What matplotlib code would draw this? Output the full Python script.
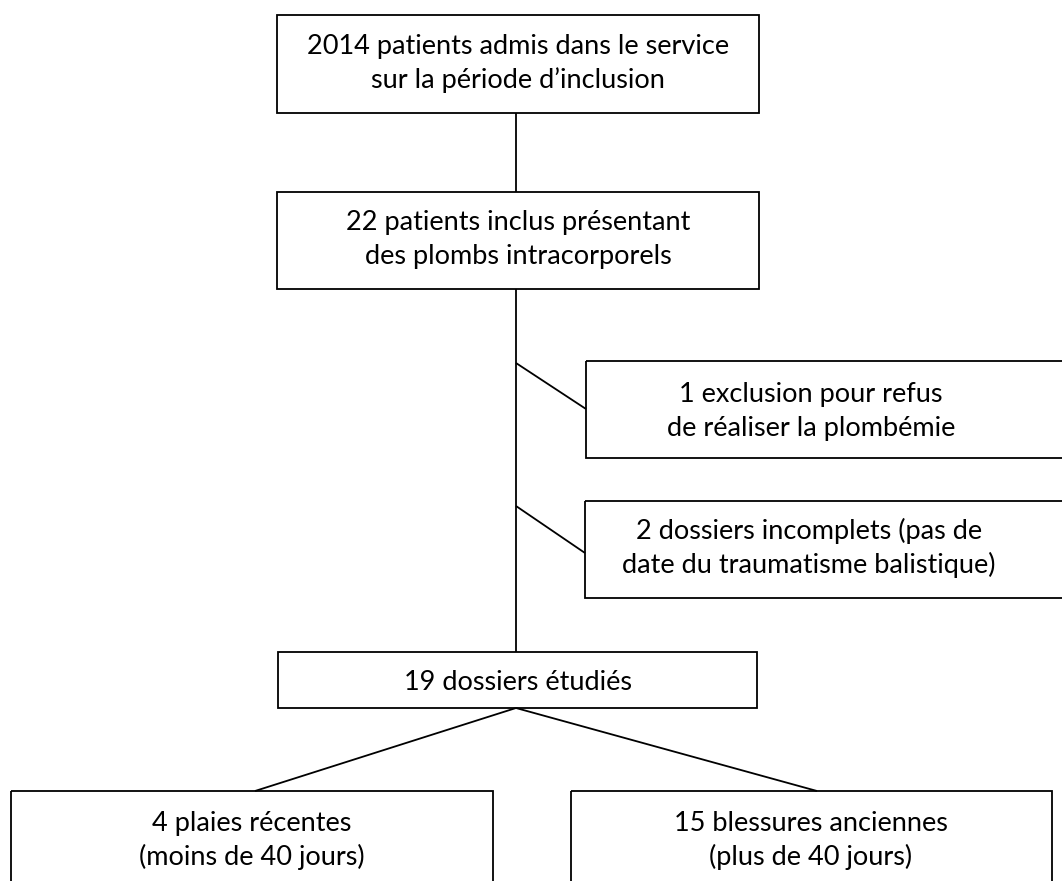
import matplotlib.pyplot as plt
from matplotlib.patches import Rectangle

# box texts (one list entry per line)
box_texts = [
    ["2014 patients admis dans le service", "sur la période d\u2019inclusion"],
    ["22 patients inclus présentant", "des plombs intracorporels"],
    ["1 exclusion pour refus", "de réaliser la plombémie"],
    ["2 dossiers incomplets (pas de", "date du traumatisme balistique)"],
    ["19 dossiers étudiés"],
    ["4 plaies récentes", "(moins de 40 jours)"],
    ["15 blessures anciennes", "(plus de 40 jours)"],
]

# layout in pixels: (left, top, right, bottom), text centre x, first baseline
box_layout = [
    ((277, 15, 759, 113), 518, 54),
    ((277, 192, 759, 289), 518, 230),
    ((586, 361, 1075, 458), 811, 402),
    ((585, 501, 1075, 598), 809, 539),
    ((278, 652, 757, 708), 518, 690),
    ((11, 791, 493, 900), 252, 831),
    ((571, 791, 1052, 900), 811, 831),
]
line_gap = 34

connectors = [
    ((516, 113), (516, 192)),
    ((516, 289), (516, 652)),
    ((516, 363), (586, 409)),
    ((516, 506), (585, 553)),
    ((516, 708), (255, 791)),
    ((516, 708), (817, 791)),
]

W, H = 1062, 881
fig = plt.figure(figsize=(W / 100, H / 100), dpi=100)
ax = fig.add_axes([0, 0, 1, 1])
ax.set_xlim(0, W)
ax.set_ylim(H, 0)
ax.axis("off")

lw = 1.3
for (p0, p1) in connectors:
    ax.plot([p0[0], p1[0]], [p0[1], p1[1]], color="black", lw=lw, solid_capstyle="butt")

for lines, ((x0, y0, x1, y1), cx, base) in zip(box_texts, box_layout):
    ax.add_patch(Rectangle((x0, y0), x1 - x0, y1 - y0, fill=False, edgecolor="black", lw=lw))
    for i, line in enumerate(lines):
        ax.text(cx, base + i * line_gap, line, ha="center", va="baseline",
                fontsize=19.5, family="Lato", color="black")

fig.savefig("out.png", dpi=100, facecolor="white")
